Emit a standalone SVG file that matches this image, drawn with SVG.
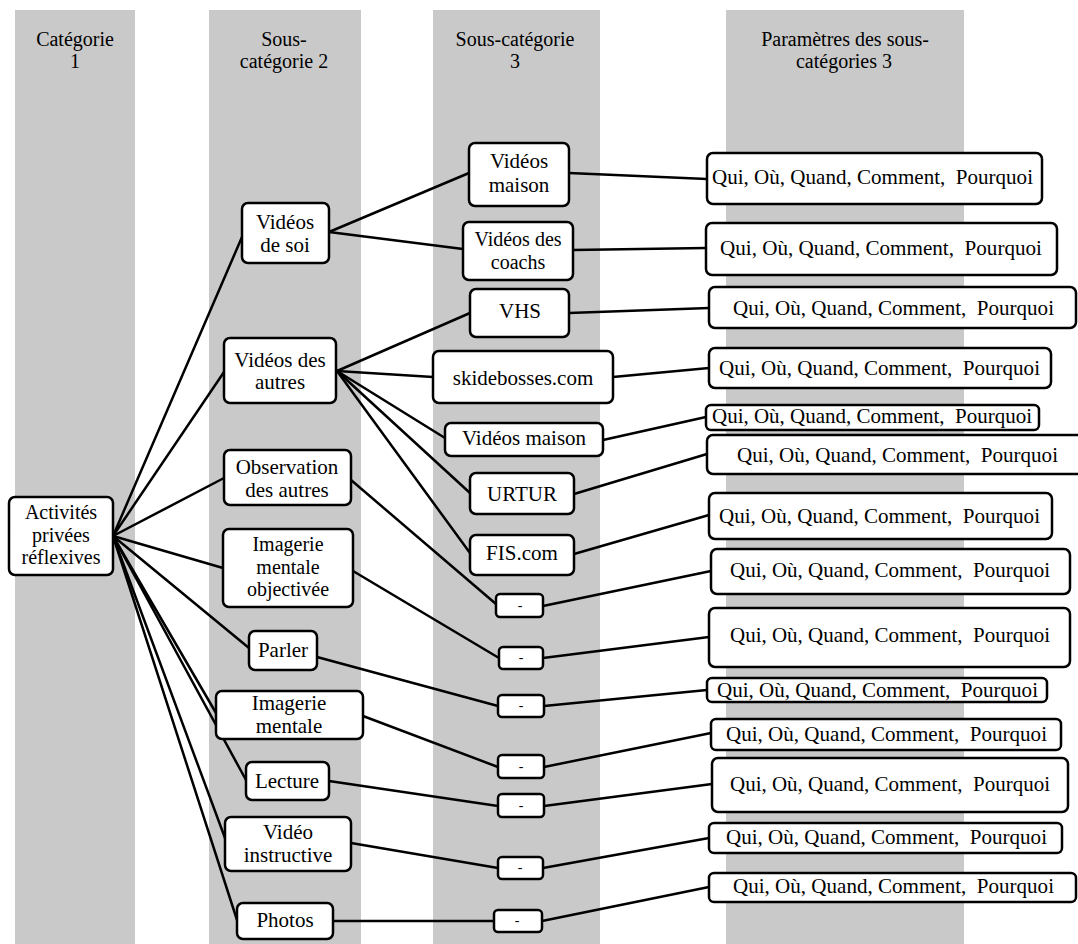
<svg xmlns="http://www.w3.org/2000/svg" width="1078" height="944" viewBox="0 0 1078 944">
<style>
.band{fill:#c9c9c9}
.box{fill:#fff;stroke:#000;stroke-width:2.5}
.t{font-family:"Liberation Serif","Times New Roman",serif;font-size:21px;fill:#000;text-anchor:middle}
.s{font-size:20px}
.h{font-family:"Liberation Serif","Times New Roman",serif;font-size:20px;fill:#000;text-anchor:middle}
.q{font-family:"Liberation Serif","Times New Roman",serif;font-size:21px;fill:#000}
.d{font-family:"Liberation Serif","Times New Roman",serif;font-size:14px;fill:#000;text-anchor:middle}
#connectors line{stroke:#000;stroke-width:2.5;stroke-linecap:round}
</style>
<rect width="1078" height="944" fill="#fff"/>
<g id="bands">
<rect class="band" x="15" y="10" width="120" height="934"/>
<rect class="band" x="209" y="10" width="152" height="934"/>
<rect class="band" x="433" y="10" width="167" height="934"/>
<rect class="band" x="726" y="10" width="238" height="934"/>
</g>
<g id="headers">
<text class="h" x="75" y="46">Catégorie</text>
<text class="h" x="75" y="68">1</text>
<text class="h" x="284" y="46">Sous-</text>
<text class="h" x="284" y="68">catégorie 2</text>
<text class="h" x="515" y="46">Sous-catégorie</text>
<text class="h" x="515" y="68">3</text>
<text class="h" x="845" y="46">Paramètres des sous-</text>
<text class="h" x="844" y="68">catégories 3</text>
</g>
<g id="connectors">
<line x1="113" y1="536" x2="242" y2="237"/>
<line x1="113" y1="536" x2="224" y2="372"/>
<line x1="113" y1="536" x2="224" y2="478"/>
<line x1="113" y1="536" x2="223" y2="568"/>
<line x1="113" y1="536" x2="249" y2="648"/>
<line x1="113" y1="536" x2="216" y2="713"/>
<line x1="113" y1="536" x2="246" y2="780"/>
<line x1="113" y1="536" x2="225" y2="838"/>
<line x1="113" y1="536" x2="237" y2="920"/>
<line x1="329" y1="232" x2="469" y2="173"/>
<line x1="329" y1="232" x2="463" y2="249"/>
<line x1="337" y1="371" x2="470" y2="313"/>
<line x1="337" y1="371" x2="433" y2="377"/>
<line x1="337" y1="371" x2="445" y2="438"/>
<line x1="337" y1="371" x2="470" y2="493"/>
<line x1="337" y1="371" x2="470" y2="553"/>
<line x1="351" y1="480" x2="496" y2="604"/>
<line x1="353" y1="571" x2="499" y2="658"/>
<line x1="317" y1="657" x2="498" y2="706"/>
<line x1="363" y1="716" x2="498" y2="767"/>
<line x1="329" y1="781" x2="498" y2="806"/>
<line x1="351" y1="843" x2="498" y2="868"/>
<line x1="333" y1="921" x2="494" y2="921"/>
<line x1="569" y1="173" x2="707" y2="179"/>
<line x1="573" y1="250" x2="706" y2="248"/>
<line x1="569" y1="313" x2="709" y2="308"/>
<line x1="613" y1="377" x2="709" y2="368"/>
<line x1="603" y1="440" x2="706" y2="417"/>
<line x1="574" y1="494" x2="707" y2="454"/>
<line x1="574" y1="554" x2="709" y2="515"/>
<line x1="543" y1="606" x2="711" y2="571"/>
<line x1="543" y1="658" x2="709" y2="637"/>
<line x1="544" y1="706" x2="707" y2="690"/>
<line x1="544" y1="767" x2="711" y2="733"/>
<line x1="544" y1="806" x2="712" y2="784"/>
<line x1="543" y1="868" x2="709" y2="838"/>
<line x1="542" y1="921" x2="709" y2="887"/>
</g>
<g id="root"><rect class="box" x="9" y="497" width="104" height="78" rx="6"/><text class="t s" x="61" y="519">Activités</text><text class="t s" x="61" y="541.5">privées</text><text class="t s" x="61" y="564">réflexives</text></g>
<g id="n-videos-soi"><rect class="box" x="242" y="203" width="87" height="60" rx="6"/><text class="t" x="285" y="229">Vidéos</text><text class="t" x="285" y="252">de soi</text></g>
<g id="n-videos-autres"><rect class="box" x="224" y="338" width="112" height="65" rx="6"/><text class="t" x="280" y="367">Vidéos des</text><text class="t" x="280" y="389">autres</text></g>
<g id="n-observation"><rect class="box" x="224" y="450" width="127" height="55" rx="6"/><text class="t" x="287" y="474">Observation</text><text class="t" x="287" y="497">des autres</text></g>
<g id="n-imagerie-obj"><rect class="box" x="223" y="529" width="130" height="78" rx="6"/><text class="t s" x="288" y="551">Imagerie</text><text class="t s" x="288" y="573.5">mentale</text><text class="t s" x="288" y="596">objectivée</text></g>
<g id="n-parler"><rect class="box" x="249" y="631" width="68" height="39" rx="6"/><text class="t" x="283" y="657">Parler</text></g>
<g id="n-imagerie"><rect class="box" x="216" y="691" width="147" height="48" rx="6"/><text class="t" x="289" y="710">Imagerie</text><text class="t" x="289" y="733">mentale</text></g>
<g id="n-lecture"><rect class="box" x="246" y="762" width="83" height="38" rx="6"/><text class="t" x="287" y="788">Lecture</text></g>
<g id="n-video-instr"><rect class="box" x="225" y="817" width="126" height="54" rx="6"/><text class="t" x="288" y="839">Vidéo</text><text class="t" x="288" y="862">instructive</text></g>
<g id="n-photos"><rect class="box" x="237" y="903" width="96" height="36" rx="6"/><text class="t" x="285" y="927">Photos</text></g>
<g id="s-videos-maison"><rect class="box" x="469" y="143" width="100" height="63" rx="6"/><text class="t" x="519" y="168">Vidéos</text><text class="t" x="519" y="192">maison</text></g>
<g id="s-videos-coachs"><rect class="box" x="463" y="222" width="110" height="58" rx="6"/><text class="t s" x="518" y="246">Vidéos des</text><text class="t s" x="518" y="268.5">coachs</text></g>
<g id="s-vhs"><rect class="box" x="470" y="289" width="99" height="48" rx="6"/><text class="t" x="520" y="318">VHS</text></g>
<g id="s-skidebosses"><rect class="box" x="433" y="351" width="180" height="52" rx="6"/><text class="t" x="523" y="385">skidebosses.com</text></g>
<g id="s-videos-maison2"><rect class="box" x="445" y="423" width="158" height="33" rx="6"/><text class="t" x="524" y="445">Vidéos maison</text></g>
<g id="s-urtur"><rect class="box" x="470" y="473" width="104" height="41" rx="6"/><text class="t" x="522" y="501">URTUR</text></g>
<g id="s-fis"><rect class="box" x="470" y="535" width="104" height="40" rx="6"/><text class="t" x="522" y="560">FIS.com</text></g>
<g id="s-d1"><rect class="box" x="496" y="594" width="47" height="23" rx="4"/><text class="d" x="520" y="610">-</text></g>
<g id="s-d2"><rect class="box" x="499" y="647" width="44" height="22" rx="4"/><text class="d" x="521" y="662">-</text></g>
<g id="s-d3"><rect class="box" x="498" y="695" width="46" height="22" rx="4"/><text class="d" x="521" y="710">-</text></g>
<g id="s-d4"><rect class="box" x="498" y="755" width="46" height="23" rx="4"/><text class="d" x="521" y="771">-</text></g>
<g id="s-d5"><rect class="box" x="498" y="794" width="46" height="23" rx="4"/><text class="d" x="521" y="810">-</text></g>
<g id="s-d6"><rect class="box" x="498" y="857" width="45" height="22" rx="4"/><text class="d" x="520" y="872">-</text></g>
<g id="s-d7"><rect class="box" x="494" y="910" width="48" height="22" rx="4"/><text class="d" x="517" y="925">-</text></g>
<g id="p1"><rect class="box" x="707" y="153" width="335" height="51" rx="6"/><text class="q" x="712" y="184" textLength="321" lengthAdjust="spacingAndGlyphs">Qui, Où, Quand, Comment,&#160; Pourquoi</text></g>
<g id="p2"><rect class="box" x="706" y="223" width="351" height="52" rx="6"/><text class="q" x="720" y="255" textLength="322" lengthAdjust="spacingAndGlyphs">Qui, Où, Quand, Comment,&#160; Pourquoi</text></g>
<g id="p3"><rect class="box" x="709" y="287" width="367" height="41" rx="6"/><text class="q" x="733" y="315" textLength="321" lengthAdjust="spacingAndGlyphs">Qui, Où, Quand, Comment,&#160; Pourquoi</text></g>
<g id="p4"><rect class="box" x="709" y="348" width="342" height="40" rx="6"/><text class="q" x="719" y="375" textLength="321" lengthAdjust="spacingAndGlyphs">Qui, Où, Quand, Comment,&#160; Pourquoi</text></g>
<g id="p5"><rect class="box" x="706" y="405" width="333" height="25" rx="5"/><text class="q" x="712" y="423" textLength="320" lengthAdjust="spacingAndGlyphs">Qui, Où, Quand, Comment,&#160; Pourquoi</text></g>
<g id="p6"><rect class="box" x="707" y="435" width="385" height="39" rx="6"/><text class="q" x="737" y="462" textLength="321" lengthAdjust="spacingAndGlyphs">Qui, Où, Quand, Comment,&#160; Pourquoi</text></g>
<g id="p7"><rect class="box" x="709" y="493" width="343" height="46" rx="6"/><text class="q" x="719" y="523" textLength="321" lengthAdjust="spacingAndGlyphs">Qui, Où, Quand, Comment,&#160; Pourquoi</text></g>
<g id="p8"><rect class="box" x="711" y="549" width="359" height="45" rx="6"/><text class="q" x="730" y="577" textLength="320" lengthAdjust="spacingAndGlyphs">Qui, Où, Quand, Comment,&#160; Pourquoi</text></g>
<g id="p9"><rect class="box" x="709" y="608" width="361" height="59" rx="6"/><text class="q" x="730" y="642" textLength="320" lengthAdjust="spacingAndGlyphs">Qui, Où, Quand, Comment,&#160; Pourquoi</text></g>
<g id="p10"><rect class="box" x="707" y="678" width="340" height="24" rx="5"/><text class="q" x="717" y="697" textLength="321" lengthAdjust="spacingAndGlyphs">Qui, Où, Quand, Comment,&#160; Pourquoi</text></g>
<g id="p11"><rect class="box" x="711" y="719" width="350" height="31" rx="5"/><text class="q" x="726" y="741" textLength="321" lengthAdjust="spacingAndGlyphs">Qui, Où, Quand, Comment,&#160; Pourquoi</text></g>
<g id="p12"><rect class="box" x="712" y="758" width="356" height="54" rx="6"/><text class="q" x="730" y="791" textLength="320" lengthAdjust="spacingAndGlyphs">Qui, Où, Quand, Comment,&#160; Pourquoi</text></g>
<g id="p13"><rect class="box" x="709" y="823" width="353" height="30" rx="5"/><text class="q" x="726" y="844" textLength="321" lengthAdjust="spacingAndGlyphs">Qui, Où, Quand, Comment,&#160; Pourquoi</text></g>
<g id="p14"><rect class="box" x="709" y="873" width="367" height="29" rx="5"/><text class="q" x="733" y="893" textLength="321" lengthAdjust="spacingAndGlyphs">Qui, Où, Quand, Comment,&#160; Pourquoi</text></g>
</svg>
